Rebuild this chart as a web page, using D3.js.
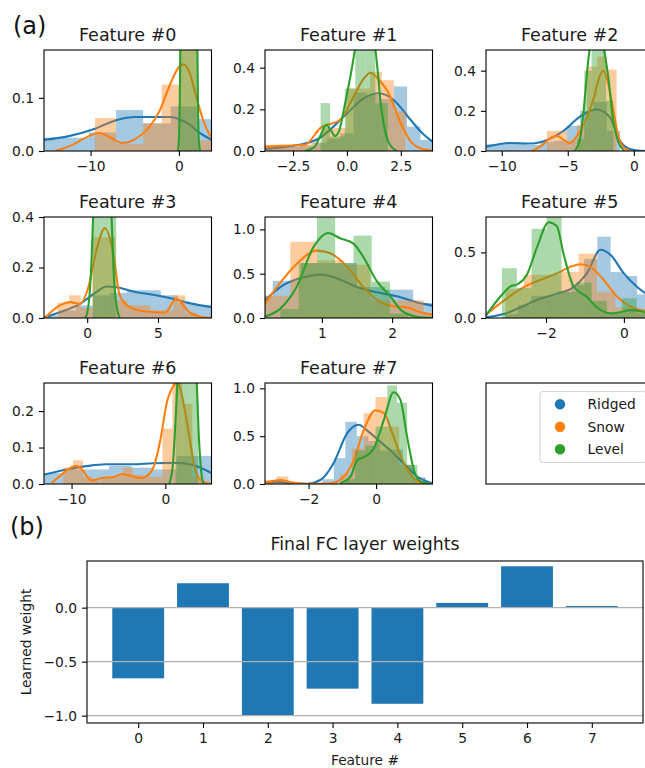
<!DOCTYPE html>
<html>
<head>
<meta charset="utf-8">
<script src="https://cdn.jsdelivr.net/npm/d3@7"></script>
<style>
body { margin: 0; background: #fff; }
svg { display: block; font-family: "DejaVu Sans", sans-serif; }
</style>
</head>
<body>
<svg class="chart"></svg>
<script>
var featureNames = ["Feature #0", "Feature #1", "Feature #2", "Feature #3",
    "Feature #4", "Feature #5", "Feature #6", "Feature #7"];
var classNames = ["Ridged", "Snow", "Level"];
var classColors = ["#1f77b4", "#ff7f0e", "#2ca02c"];

// axis limits and ticks of each small panel
var xLimits = [[-15.27, 3.69], [-3.80, 3.97], [-11.19, 1.49], [-3.05, 8.78],
    [0.19, 2.576], [-3.54, 0.76], [-12.94, 4.93], [-3.29, 1.67]];
var yLimits = [0.19, 0.485, 0.503, 0.40, 1.14, 0.77, 0.277, 1.056];
var xTickValues = [[-10, 0], [-2.5, 0, 2.5], [-10, -5, 0], [0, 5], [1, 2], [-2, 0], [-10, 0], [-2, 0]];
var xTickFormats = ["d", ".1f", "d", "d", "d", "d", "d", "d"];
var yTickValues = [[0, 0.1], [0, 0.2, 0.4], [0, 0.2, 0.4], [0, 0.2, 0.4],
    [0, 0.5, 1.0], [0, 0.5], [0, 0.1, 0.2], [0, 0.5, 1.0]];

// histogram bins [left, right, density], one list per feature
var histRidged = [
    [[-16.4, -13.3, 0.025], [-13.3, -10.2, 0.025], [-10.2, -7.13, 0.035], [-7.13, -4.05, 0.077], [-4.05, -0.92, 0.052], [-0.92, 2.18, 0.084], [2.18, 5.3, 0.06]],
    [[-4.03, -3.41, 0.015], [-3.41, -2.79, 0.02], [-2.79, -2.17, 0.02], [-2.17, -1.55, 0.025], [-1.55, -0.93, 0.04], [-0.93, -0.31, 0.06], [-0.31, 0.31, 0.085], [0.31, 0.93, 0.28], [0.93, 1.55, 0.27], [1.55, 2.17, 0.25], [2.17, 2.79, 0.31], [2.79, 3.41, 0.117], [3.41, 4.03, 0.053]],
    [[-11.13, -10.12, 0.035], [-10.12, -9.11, 0.04], [-9.11, -8.1, 0.04], [-8.1, -7.09, 0.03], [-7.09, -6.08, 0.045], [-6.08, -5.07, 0.05], [-5.07, -4.06, 0.125], [-4.06, -3.05, 0.2], [-3.05, -2.04, 0.245], [-2.04, -1.03, 0.1]],
    [[-3.2, -2.0, 0.01], [-2.0, -0.8, 0.03], [-0.8, 0.4, 0.05], [0.4, 1.6, 0.09], [1.6, 2.8, 0.1], [2.8, 4.0, 0.11], [4.0, 5.2, 0.11], [5.2, 6.4, 0.09], [6.4, 7.6, 0.06], [7.6, 8.8, 0.05]],
    [[-0.1, 0.3, 0.25], [0.3, 0.7, 0.42], [0.7, 1.1, 0.62], [1.1, 1.5, 0.62], [1.5, 1.9, 0.35], [1.9, 2.3, 0.32], [2.3, 2.7, 0.17]],
    [[-3.06, -2.72, 0.03], [-2.72, -2.38, 0.1], [-2.38, -2.04, 0.17], [-2.04, -1.7, 0.17], [-1.7, -1.36, 0.2], [-1.36, -1.02, 0.25], [-1.02, -0.68, 0.45], [-0.68, -0.34, 0.62], [-0.34, 0, 0.35], [0, 0.34, 0.32], [0.34, 0.68, 0.18]],
    [[-13.2, -10.8, 0.03], [-10.8, -8.4, 0.04], [-8.4, -6.0, 0.04], [-6.0, -3.6, 0.05], [-3.6, -1.2, 0.045], [-1.2, 1.2, 0.04], [1.2, 3.6, 0.077], [3.6, 6.0, 0.077]],
    [[-3.3, -2.96, 0.02], [-2.96, -2.62, 0.01], [-1.59, -1.25, 0.05], [-1.25, -0.91, 0.27], [-0.91, -0.57, 0.65], [-0.57, -0.23, 0.5], [-0.23, 0.11, 0.45], [0.11, 0.45, 0.35], [0.45, 0.79, 0.36], [0.79, 1.13, 0.2], [1.13, 1.47, 0.07]]
];
var histSnow = [
    [[-9.5, -7.13, 0.062], [-7.13, -4.05, 0.013], [-4.05, -1.95, 0.052], [-1.95, 0.05, 0.125], [0.05, 2.0, 0.3], [2.0, 3.9, 0.02]],
    [[-3.88, -3.33, 0.03], [-3.33, -2.78, 0.03], [-2.78, -2.23, 0.02], [-2.23, -1.68, 0.03], [-1.68, -1.13, 0.04], [-1.13, -0.58, 0.11], [-0.58, -0.03, 0.11], [-0.03, 0.52, 0.3], [0.52, 1.07, 0.3], [1.07, 1.62, 0.38], [1.62, 2.17, 0.34], [2.17, 2.72, 0.19]],
    [[-6.58, -5.82, 0.1], [-5.82, -5.06, 0.1], [-5.06, -4.3, 0.05], [-4.3, -3.54, 0.13], [-3.54, -2.78, 0.42], [-2.78, -2.02, 0.47], [-2.02, -1.3, 0.405]],
    [[-2.1, -1.28, 0.06], [-1.28, -0.46, 0.09], [-0.46, 0.36, 0.04], [0.36, 1.18, 0.32], [1.18, 2.0, 0.32], [2.0, 2.82, 0.07], [2.82, 3.64, 0.05], [3.64, 4.46, 0.05], [4.46, 5.28, 0.03], [5.28, 6.1, 0.03], [6.1, 6.92, 0.09], [6.92, 7.74, 0.02]],
    [[-0.21, 0.17, 0.2], [0.17, 0.55, 0.25], [0.55, 0.93, 0.86], [0.93, 1.31, 0.65], [1.31, 1.69, 0.6], [1.69, 2.07, 0.2], [2.07, 2.45, 0.2], [2.45, 2.83, 0.05]],
    [[-3.04, -2.57, 0.22], [-2.57, -2.1, 0.33], [-2.1, -1.63, 0.33], [-1.63, -1.16, 0.35], [-1.16, -0.69, 0.49], [-0.69, -0.22, 0.2], [-0.22, 0.25, 0.08], [0.25, 0.72, 0.06]],
    [[-10.9, -9.84, 0.045], [-9.84, -8.78, 0.065], [-8.78, -7.72, 0.02], [-7.72, -6.66, 0.01], [-6.66, -5.6, 0.02], [-5.6, -4.54, 0.02], [-4.54, -3.48, 0.045], [-3.48, -2.42, 0.025], [-2.42, -1.36, 0.02], [-1.36, -0.3, 0.02], [-0.3, 0.76, 0.152], [0.76, 1.82, 0.3], [1.82, 2.88, 0.22], [2.88, 3.94, 0.02]],
    [[-3.3, -2.95, 0.04], [-2.95, -2.6, 0.08], [-1.07, -0.72, 0.1], [-0.72, -0.37, 0.37], [-0.37, -0.02, 0.74], [-0.02, 0.33, 0.91], [0.33, 0.68, 0.6], [0.68, 1.03, 0.2], [1.03, 1.38, 0.05]]
];
var histLevel = [
    [[0.1, 1.15, 0.5], [1.15, 2.2, 0.45]],
    [[-1.22, -0.78, 0.23], [-0.78, -0.1, 0.07], [-0.1, 0.39, 0.3], [0.39, 0.86, 0.55], [0.86, 1.32, 0.55], [1.32, 1.9, 0.23]],
    [[-4.3, -3.75, 0.06], [-3.75, -3.2, 0.4], [-3.2, -2.65, 0.6], [-2.65, -2.1, 0.6], [-2.1, -1.55, 0.25]],
    [[0.4, 0.95, 0.9], [0.95, 1.5, 1.1], [1.5, 2.05, 0.6]],
    [[0.41, 0.67, 0.1], [0.67, 0.93, 0.62], [0.93, 1.19, 1.2], [1.19, 1.45, 0.62], [1.45, 1.71, 0.93], [1.71, 1.97, 0.41], [1.97, 2.23, 0.05]],
    [[-3.13, -2.75, 0.38], [-2.75, -2.37, 0.23], [-2.37, -1.98, 0.68], [-1.98, -1.6, 0.85], [-1.6, -1.21, 0.2], [-1.21, -0.83, 0.27], [-0.83, -0.44, 0.13], [-0.44, -0.05, 0.04], [-0.05, 0.33, 0.15], [0.33, 0.72, 0.04]],
    [[1.1, 1.9, 0.35], [1.9, 2.7, 0.35], [2.7, 3.5, 0.35]],
    [[-0.92, -0.62, 0.05], [-0.62, -0.32, 0.35], [-0.32, -0.02, 0.4], [-0.02, 0.33, 0.6], [0.33, 0.62, 1.03], [0.62, 0.92, 0.85], [0.92, 1.22, 0.2]]
];

// density curves [x, density]
var kdeRidged = [
    [[-15.3, 0.021], [-12.7, 0.027], [-9.5, 0.042], [-7.1, 0.058], [-5.0, 0.064], [-3, 0.064], [-1.0, 0.064], [0.3, 0.058], [1.2, 0.05], [2.2, 0.036], [3.7, 0.021]],
    [[-3.8, 0.01], [-3, 0.018], [-1.9, 0.037], [-1.3, 0.06], [-0.8, 0.1], [0, 0.18], [0.78, 0.253], [1.48, 0.277], [2.17, 0.245], [2.95, 0.15], [3.5, 0.085], [3.97, 0.045]],
    [[-11.19, 0.021], [-9.4, 0.04], [-7.9, 0.037], [-6.6, 0.054], [-5.4, 0.096], [-4.1, 0.17], [-2.85, 0.208], [-1.84, 0.17], [-1.08, 0.054], [-0.32, 0.01], [0.82, 0], [1.49, 0]],
    [[-3.05, 0.003], [-1.93, 0.023], [-0.51, 0.056], [0.66, 0.103], [1.37, 0.125], [2.07, 0.122], [3.25, 0.105], [4.66, 0.092], [6.07, 0.076], [7.48, 0.056], [8.78, 0.043]],
    [[0.19, 0.2], [0.45, 0.37], [0.74, 0.46], [0.98, 0.49], [1.21, 0.45], [1.5, 0.35], [1.78, 0.29], [2.07, 0.245], [2.35, 0.178], [2.57, 0.14]],
    [[-3.54, 0.005], [-3.09, 0.03], [-2.66, 0.08], [-2.15, 0.146], [-1.72, 0.185], [-1.29, 0.236], [-0.95, 0.34], [-0.6, 0.52], [-0.34, 0.48], [0, 0.34], [0.34, 0.236], [0.76, 0.15]],
    [[-12.94, 0.026], [-10.5, 0.04], [-8.4, 0.049], [-6.3, 0.054], [-3.4, 0.054], [-1.3, 0.057], [1.17, 0.058], [2.94, 0.052], [4.93, 0.03]],
    [[-3.29, 0.014], [-2.94, 0.024], [-2.55, 0.007], [-2.05, 0.002], [-1.65, 0.042], [-1.26, 0.216], [-0.86, 0.53], [-0.51, 0.62], [-0.27, 0.56], [0.13, 0.44], [0.52, 0.32], [0.92, 0.18], [1.22, 0.076], [1.52, 0.024], [1.67, 0.007]]
];
var kdeSnow = [
    [[-14, 0], [-12, 0.012], [-10.2, 0.028], [-9, 0.034], [-7.8, 0.026], [-6.5, 0.015], [-5, 0.022], [-3.5, 0.042], [-2.2, 0.075], [-1, 0.125], [0, 0.158], [0.5, 0.163], [1.2, 0.148], [2, 0.1], [2.8, 0.055], [3.7, 0.024]],
    [[-3.8, 0.02], [-3, 0.025], [-1.94, 0.03], [-1.24, 0.11], [-0.31, 0.15], [0.3, 0.26], [0.8, 0.35], [1.09, 0.376], [1.5, 0.34], [1.87, 0.29], [2.57, 0.117], [3.0, 0.04], [3.4, 0.013], [3.97, 0.002]],
    [[-7.7, 0], [-7, 0.025], [-6.3, 0.065], [-5.8, 0.075], [-5.2, 0.05], [-4.85, 0.04], [-4.3, 0.075], [-3.6, 0.16], [-3.0, 0.27], [-2.6, 0.37], [-2.3, 0.40], [-2.0, 0.35], [-1.6, 0.22], [-1.2, 0.08], [-0.8, 0.02], [-0.3, 0]],
    [[-3.0, 0], [-1.93, 0.05], [-1.22, 0.063], [-0.51, 0.056], [0.07, 0.12], [0.66, 0.27], [1.25, 0.356], [1.84, 0.256], [2.3, 0.089], [3.0, 0.043], [3.96, 0.027], [4.9, 0.023], [5.5, 0.022], [6.3, 0.076], [7.2, 0.023], [8.0, 0.005], [8.78, 0]],
    [[0.19, 0.16], [0.4, 0.39], [0.64, 0.61], [0.93, 0.76], [1.12, 0.73], [1.36, 0.58], [1.59, 0.35], [1.83, 0.18], [2.02, 0.133], [2.21, 0.12], [2.4, 0.064], [2.57, 0.038]],
    [[-3.54, 0.026], [-3.09, 0.13], [-2.66, 0.22], [-2.15, 0.29], [-1.72, 0.34], [-1.37, 0.39], [-1.11, 0.41], [-0.86, 0.39], [-0.52, 0.29], [-0.17, 0.16], [0.17, 0.087], [0.76, 0.045]],
    [[-12.1, 0.003], [-11.1, 0.025], [-10.1, 0.045], [-9.5, 0.05], [-8.9, 0.04], [-7.9, 0.01], [-6.8, 0.016], [-5.4, 0.02], [-4.6, 0.027], [-3.7, 0.022], [-2.6, 0.016], [-1.8, 0.025], [-1.24, 0.047], [-0.53, 0.12], [0.18, 0.225], [0.9, 0.27], [1.3, 0.28], [1.8, 0.24], [2.5, 0.14], [3.2, 0.038], [3.9, 0.008], [4.93, 0]],
    [[-3.29, 0.014], [-2.84, 0.042], [-2.45, 0.014], [-2.05, 0.0], [-1.36, 0.007], [-0.96, 0.076], [-0.66, 0.25], [-0.37, 0.56], [-0.02, 0.77], [0.23, 0.74], [0.52, 0.49], [0.82, 0.22], [1.07, 0.076], [1.32, 0.014], [1.67, 0]]
];
var kdeLevel = [
    [[-0.1, 0], [0.0, 0.02], [0.1, 0.1], [0.2, 0.25], [0.6, 0.5], [1.2, 0.6], [1.8, 0.5], [2.05, 0.25], [2.15, 0.1], [2.25, 0.02], [2.4, 0]],
    [[-1.95, 0], [-1.5, 0.02], [-1.2, 0.08], [-0.95, 0.125], [-0.75, 0.1], [-0.55, 0.072], [-0.35, 0.1], [-0.1, 0.22], [0.2, 0.38], [0.4, 0.5], [0.85, 0.62], [1.3, 0.5], [1.6, 0.2], [1.9, 0.05], [2.3, 0]],
    [[-4.5, 0], [-4.1, 0.05], [-3.8, 0.2], [-3.5, 0.42], [-3.3, 0.52], [-2.7, 0.6], [-2.25, 0.5], [-1.9, 0.35], [-1.6, 0.17], [-1.2, 0.05], [-0.7, 0]],
    [[-0.15, 0], [0.0, 0.02], [0.15, 0.08], [0.3, 0.22], [0.42, 0.4], [0.8, 0.9], [1.2, 0.95], [1.72, 0.4], [1.9, 0.15], [2.1, 0.04], [2.3, 0]],
    [[0.19, 0.015], [0.4, 0.1], [0.64, 0.35], [0.88, 0.8], [1.09, 0.96], [1.26, 0.9], [1.45, 0.84], [1.59, 0.69], [1.78, 0.42], [1.97, 0.25], [2.14, 0.08], [2.35, 0.015], [2.57, 0]],
    [[-3.54, 0.02], [-3.18, 0.16], [-2.92, 0.24], [-2.71, 0.26], [-2.49, 0.33], [-2.23, 0.54], [-1.93, 0.73], [-1.72, 0.70], [-1.55, 0.49], [-1.29, 0.24], [-0.95, 0.16], [-0.69, 0.08], [-0.34, 0.035], [-0.09, 0.044], [0.17, 0.06], [0.76, 0.03]],
    [[0.4, 0], [0.8, 0.05], [1.1, 0.18], [1.35, 0.3], [2.3, 0.45], [3.3, 0.3], [3.6, 0.12], [3.85, 0.03], [4.1, 0]],
    [[-1.06, 0.007], [-0.76, 0.076], [-0.56, 0.25], [-0.36, 0.28], [-0.07, 0.37], [0.23, 0.67], [0.52, 0.96], [0.72, 0.88], [0.92, 0.49], [1.12, 0.146], [1.32, 0.024], [1.67, 0]]
];

// panel (b)
var weightFeatures = [0, 1, 2, 3, 4, 5, 6, 7];
var weights = [-0.654, 0.226, -0.998, -0.75, -0.89, 0.044, 0.383, 0.015];
var weightTicks = [-1.0, -0.5, 0.0];
var weightLimits = [-1.068, 0.432];
var featureLimits = [-0.79, 7.79];

var panelLeft = [44, 265, 486];
var panelTop = [50, 217, 383];
var panelSize = {width: 167.5, height: 101};
var tickFont = 13.8;

var svg = d3.select(".chart")
        .attr("width", 645)
        .attr("height", 768);
svg.append("rect")
        .attr("width", 645)
        .attr("height", 768)
        .attr("fill", "#fff");

initFeaturePanels();
initLegend();
initWeightChart();

function styleAxis(g) {
    g.select(".domain").remove();
    g.selectAll(".tick line").attr("stroke", "#000").attr("stroke-width", 1.1);
    g.selectAll(".tick text")
            .attr("font-family", "DejaVu Sans, sans-serif")
            .attr("font-size", tickFont)
            .attr("fill", "#1a1a1a");
}

function initFeaturePanels() {
    for (var i = 0; i < featureNames.length; i++) {
        var left = panelLeft[i % 3];
        var top = panelTop[Math.floor(i / 3)];
        var x = d3.scaleLinear().domain(xLimits[i]).range([0, panelSize.width]);
        var y = d3.scaleLinear().domain([0, yLimits[i]]).range([panelSize.height, 0]);

        var panel = svg.append("g")
                .attr("transform", "translate(" + left + "," + top + ")");
        panel.append("clipPath")
                .attr("id", "clip" + i)
                .append("rect")
                .attr("width", panelSize.width)
                .attr("height", panelSize.height);
        var plot = panel.append("g").attr("clip-path", "url(#clip" + i + ")");

        var hists = [histRidged[i], histSnow[i], histLevel[i]];
        var kdes = [kdeRidged[i], kdeSnow[i], kdeLevel[i]];
        var line = d3.line()
                .x(function (d) { return x(d[0]); })
                .y(function (d) { return y(d[1]); })
                .curve(d3.curveMonotoneX);

        for (var s = 0; s < 3; s++) {
            plot.append("g")
                    .selectAll("rect")
                    .data(hists[s])
                    .enter().append("rect")
                    .attr("x", function (d) { return x(d[0]); })
                    .attr("width", function (d) { return x(d[1]) - x(d[0]); })
                    .attr("y", function (d) { return y(d[2]); })
                    .attr("height", function (d) { return y(0) - y(d[2]); })
                    .attr("fill", classColors[s])
                    .attr("fill-opacity", 0.4);
            plot.append("path")
                    .datum(kdes[s])
                    .attr("d", line)
                    .attr("fill", "none")
                    .attr("stroke", classColors[s])
                    .attr("stroke-width", 2.1);
        }

        panel.append("g")
                .attr("transform", "translate(0," + panelSize.height + ")")
                .call(d3.axisBottom(x).tickValues(xTickValues[i])
                        .tickFormat(d3.format(xTickFormats[i])).tickSize(5).tickPadding(5))
                .call(styleAxis);
        panel.append("g")
                .call(d3.axisLeft(y).tickValues(yTickValues[i])
                        .tickFormat(d3.format(".1f")).tickSize(5).tickPadding(5))
                .call(styleAxis);

        panel.append("rect")
                .attr("width", panelSize.width)
                .attr("height", panelSize.height)
                .attr("fill", "none")
                .attr("stroke", "#000")
                .attr("stroke-width", 1.1);
        panel.append("text")
                .attr("x", panelSize.width / 2)
                .attr("y", -9.5)
                .attr("text-anchor", "middle")
                .attr("font-size", 17.5)
                .attr("fill", "#1a1a1a")
                .text(featureNames[i]);
    }

    svg.append("text")
            .attr("x", 13)
            .attr("y", 33.5)
            .attr("font-size", 24)
            .attr("fill", "#111")
            .text("(a)");
}

function initLegend() {
    // empty ninth panel holding the legend
    var panel = svg.append("g")
            .attr("transform", "translate(" + panelLeft[2] + "," + panelTop[2] + ")");
    panel.append("rect")
            .attr("width", panelSize.width)
            .attr("height", panelSize.height)
            .attr("fill", "none")
            .attr("stroke", "#000")
            .attr("stroke-width", 1.1);
    panel.append("rect")
            .attr("x", 54)
            .attr("y", 8.5)
            .attr("width", 106)
            .attr("height", 71)
            .attr("rx", 3)
            .attr("fill", "#fff")
            .attr("fill-opacity", 0.8)
            .attr("stroke", "#d6d6d6")
            .attr("stroke-width", 1.1);
    var item = panel.selectAll(".legendItem")
            .data(classNames)
            .enter().append("g")
            .attr("class", "legendItem")
            .attr("transform", function (d, j) {
                return "translate(74," + (21.3 + j * 22.5) + ")";
            });
    item.append("circle")
            .attr("r", 5.2)
            .attr("fill", function (d, j) { return classColors[j]; });
    item.append("text")
            .attr("x", 27.5)
            .attr("y", 5)
            .attr("font-size", tickFont)
            .attr("fill", "#1a1a1a")
            .text(function (d) { return d; });
}

function initWeightChart() {
    var area = {left: 87, top: 561, width: 556, height: 162};
    var x = d3.scaleLinear().domain(featureLimits).range([0, area.width]);
    var y = d3.scaleLinear().domain(weightLimits).range([area.height, 0]);

    var chart = svg.append("g")
            .attr("transform", "translate(" + area.left + "," + area.top + ")");

    chart.selectAll(".weightBar")
            .data(weights)
            .enter().append("rect")
            .attr("class", "weightBar")
            .attr("x", function (d, j) { return x(weightFeatures[j] - 0.4); })
            .attr("width", x(0.8) - x(0))
            .attr("y", function (d) { return y(Math.max(0, d)); })
            .attr("height", function (d) { return Math.abs(y(d) - y(0)); })
            .attr("fill", "#1f77b4");

    // grid sits over the bars, as in the original
    chart.selectAll(".grid")
            .data(weightTicks)
            .enter().append("line")
            .attr("class", "grid")
            .attr("x1", 0)
            .attr("x2", area.width)
            .attr("y1", function (d) { return y(d); })
            .attr("y2", function (d) { return y(d); })
            .attr("stroke", "#b0b0b0")
            .attr("stroke-width", 1.1);

    chart.append("g")
            .attr("transform", "translate(0," + area.height + ")")
            .call(d3.axisBottom(x).tickValues(weightFeatures)
                    .tickFormat(d3.format("d")).tickSize(5).tickPadding(5))
            .call(styleAxis);
    chart.append("g")
            .call(d3.axisLeft(y).tickValues(weightTicks)
                    .tickFormat(d3.format(".1f")).tickSize(5).tickPadding(5))
            .call(styleAxis);
    chart.append("rect")
            .attr("width", area.width)
            .attr("height", area.height)
            .attr("fill", "none")
            .attr("stroke", "#000")
            .attr("stroke-width", 1.1);

    chart.append("text")
            .attr("x", area.width / 2)
            .attr("y", -11)
            .attr("text-anchor", "middle")
            .attr("font-size", 17.3)
            .attr("fill", "#1a1a1a")
            .text("Final FC layer weights");
    chart.append("text")
            .attr("x", area.width / 2)
            .attr("y", 204)
            .attr("text-anchor", "middle")
            .attr("font-size", tickFont)
            .attr("fill", "#1a1a1a")
            .text("Feature #");
    svg.append("text")
            .attr("transform", "translate(30.5," + (area.top + area.height / 2) + ") rotate(-90)")
            .attr("text-anchor", "middle")
            .attr("font-size", tickFont)
            .attr("fill", "#1a1a1a")
            .text("Learned weight");

    svg.append("text")
            .attr("x", 10)
            .attr("y", 535)
            .attr("font-size", 24)
            .attr("fill", "#111")
            .text("(b)");
}
</script>
</body>
</html>
